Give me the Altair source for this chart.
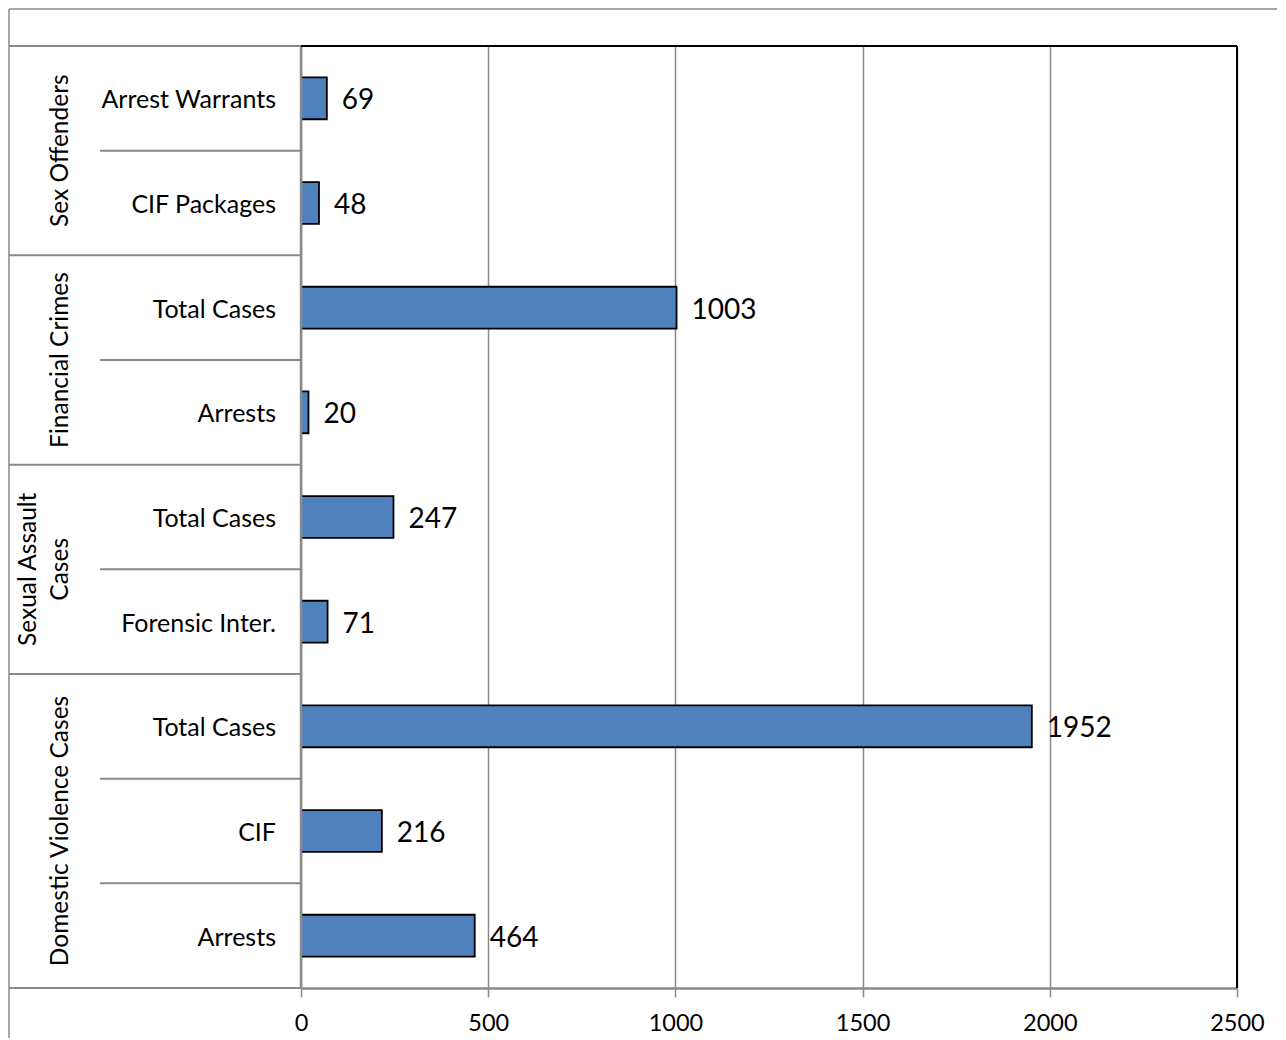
import altair as alt
import pandas as pd

# ---- data ----
groups = ["Sex Offenders", "Sex Offenders",
          "Financial Crimes", "Financial Crimes",
          "Sexual Assault Cases", "Sexual Assault Cases",
          "Domestic Violence Cases", "Domestic Violence Cases", "Domestic Violence Cases"]
categories = ["Arrest Warrants", "CIF Packages",
              "Total Cases", "Arrests",
              "Total Cases", "Forensic Inter.",
              "Total Cases", "CIF", "Arrests"]
values = [69, 48, 1003, 20, 247, 71, 1952, 216, 464]
group_labels = {
    "Sex Offenders": ["Sex Offenders"],
    "Financial Crimes": ["Financial Crimes"],
    "Sexual Assault Cases": ["Sexual Assault", "Cases"],
    "Domestic Violence Cases": ["Domestic Violence Cases"],
}
x_ticks = [0, 500, 1000, 1500, 2000, 2500]
x_max = 2500

# ---- derived tables ----
n = len(categories)
rows = pd.DataFrame({
    "group": groups,
    "category": categories,
    "value": values,
    "row": list(range(n)),
})
rows["zero"] = 0
rows["top"] = rows["row"] + 0.3
rows["bottom"] = rows["row"] + 0.7
rows["mid"] = rows["row"] + 0.5

group_starts = [i for i in range(n) if i == 0 or groups[i] != groups[i - 1]]
group_ends = group_starts[1:] + [n]
gdf = pd.DataFrame({
    "group": [groups[s] for s in group_starts],
    "mid": [(s + e) / 2 for s, e in zip(group_starts, group_ends)],
})
gdf["lines"] = [group_labels[g] for g in gdf["group"]]
gdf["nlines"] = [len(l) for l in gdf["lines"]]
gdf_single = gdf[gdf["nlines"] == 1]
gdf_multi = gdf[gdf["nlines"] > 1]

sub_sep = pd.DataFrame({"y": [i for i in range(1, n) if groups[i] == groups[i - 1]]})
grp_sep = pd.DataFrame({"y": group_starts + [n]})
border = pd.DataFrame({"x0": [0], "x1": [x_max], "y0": [0], "y1": [n]})
one = pd.DataFrame({"a": [0]})

W, H = 936, 942
GREY = "#8a8a8a"
FONT = "Lato"

yscale = alt.Scale(domain=[0, n], reverse=True, nice=False, zero=False)
xscale = alt.Scale(domain=[0, x_max], nice=False, zero=True)
xaxis = alt.Axis(values=x_ticks, title=None, grid=True, gridColor=GREY, gridWidth=1.5,
                 domainColor=GREY, domainWidth=2.5, tickColor=GREY, tickSize=9, tickWidth=1.5,
                 labelFont=FONT, labelFontSize=23.5, labelColor="black", labelPadding=14,
                 format="d", labelFlush=False)

bars = alt.Chart(rows).mark_bar(color="#4F81BD", stroke="black", strokeWidth=1.8).encode(
    x=alt.X("value:Q", scale=xscale, axis=xaxis),
    x2="zero:Q",
    y=alt.Y("top:Q", scale=yscale, axis=None),
    y2="bottom:Q",
)

vlabels = alt.Chart(rows).mark_text(align="left", baseline="middle", dx=15, dy=3,
                                    font=FONT, fontSize=28, color="black").encode(
    x=alt.X("value:Q", scale=xscale, axis=xaxis),
    y=alt.Y("mid:Q", scale=yscale, axis=None),
    text="value:Q",
)

cat_labels = alt.Chart(rows).mark_text(align="right", baseline="middle", dy=2,
                                       font=FONT, fontSize=25, color="black").encode(
    x=alt.value(-25),
    y=alt.Y("mid:Q", scale=yscale, axis=None),
    text="category:N",
)

grp_single = alt.Chart(gdf_single).mark_text(align="center", baseline="middle", angle=270,
                                             font=FONT, fontSize=24.5, color="black").encode(
    x=alt.value(-240),
    y=alt.Y("mid:Q", scale=yscale, axis=None),
    text="lines",
)
grp_multi = alt.Chart(gdf_multi).mark_text(align="center", baseline="middle", angle=270,
                                           font=FONT, fontSize=24.5, color="black",
                                           lineHeight=32).encode(
    x=alt.value(-272),
    y=alt.Y("mid:Q", scale=yscale, axis=None),
    text="lines",
)

sub_rules = alt.Chart(sub_sep).mark_rule(color=GREY, strokeWidth=2).encode(
    x=alt.value(-201), x2=alt.value(0),
    y=alt.Y("y:Q", scale=yscale, axis=None),
)
grp_rules = alt.Chart(grp_sep).mark_rule(color=GREY, strokeWidth=2).encode(
    x=alt.value(-292), x2=alt.value(0),
    y=alt.Y("y:Q", scale=yscale, axis=None),
)
yaxis_line = alt.Chart(border).mark_rule(color=GREY, strokeWidth=2.5).encode(
    x=alt.X("x0:Q", scale=xscale, axis=xaxis),
    y=alt.Y("y0:Q", scale=yscale, axis=None),
    y2="y1:Q",
)
top_border = alt.Chart(border).mark_rule(color="black", strokeWidth=2).encode(
    x=alt.X("x0:Q", scale=xscale, axis=xaxis), x2="x1:Q",
    y=alt.Y("y0:Q", scale=yscale, axis=None),
)
right_border = alt.Chart(border).mark_rule(color="black", strokeWidth=2).encode(
    x=alt.X("x1:Q", scale=xscale, axis=xaxis),
    y=alt.Y("y0:Q", scale=yscale, axis=None),
    y2="y1:Q",
)
frame_left = alt.Chart(one).mark_rule(color=GREY, strokeWidth=1.5).encode(
    x=alt.value(-292), y=alt.value(-37), y2=alt.value(H + 60),
)
frame_top = alt.Chart(one).mark_rule(color=GREY, strokeWidth=1.5).encode(
    x=alt.value(-292), x2=alt.value(W + 60), y=alt.value(-37),
)

chart = alt.layer(
    frame_left, frame_top, sub_rules, grp_rules, bars, yaxis_line,
    top_border, right_border, vlabels, cat_labels, grp_single, grp_multi,
).properties(
    width=W, height=H,
    autosize=alt.AutoSizeParams(type="none"),
    padding={"left": 293, "top": 38, "right": 40, "bottom": 50},
).configure_view(stroke=None)

chart.save("out.html", embed_options={"renderer": "svg", "actions": False})
